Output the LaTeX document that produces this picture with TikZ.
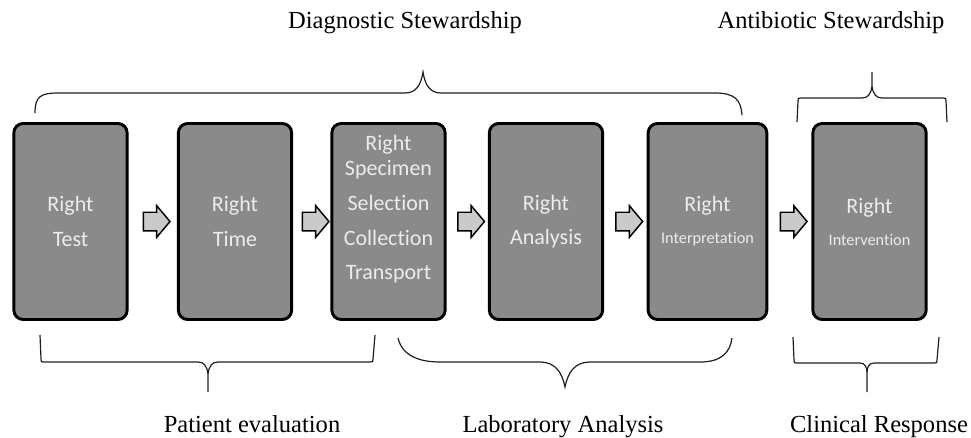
\documentclass[tikz,border=0pt]{standalone}
\usepackage{fontspec}
\setmainfont{Liberation Serif}
\newfontfamily\boxfont{Carlito}[Ligatures=NoCommon]
\usetikzlibrary{shapes.arrows,calc}
\definecolor{stagefill}{RGB}{138,138,138}
\definecolor{stagetext}{RGB}{236,236,236}
\definecolor{flowfill}{RGB}{202,202,202}
\definecolor{bracecol}{RGB}{30,30,30}

\begin{document}
\begin{tikzpicture}[x=0.75pt,y=-0.75pt]
% ----- columns (x) & row (y), in px of the sketch -----
\def\xTest{70.5}
\def\xTime{235}
\def\xSpec{388.5}
\def\xAnal{546}
\def\xInterp{707.5}
\def\xInterv{869.5}

\def\yBox{221.5}

% box size
\def\wBox{85pt}
\def\hBox{147pt}

% styles
\tikzset{stage/.style={draw=black,line width=2.2pt,fill=stagefill,rounded corners=7pt,
    minimum width=\wBox,minimum height=\hBox,inner sep=0pt,align=center,
    text=stagetext,font=\boxfont\fontsize{16.5}{26}\selectfont},
  flow/.style={single arrow,draw=black,line width=1.1pt,fill=flowfill,inner xsep=0pt,
    inner ysep=6.4pt,minimum height=20pt,single arrow head extend=4.9pt,
    single arrow tip angle=100},
  brace/.style={draw=bracecol,line width=0.9pt},
  grp/.style={anchor=base,font=\fontsize{18.4}{22}\selectfont}}

\useasboundingbox (0,0) rectangle (971,437);

% ----- stages -----
\node[stage] (test) at (\xTest,\yBox) {Right\\Test};
\node[stage] (time) at (\xTime,\yBox) {Right\\Time};
\node[stage,label={[stagetext,align=center,font=\boxfont\fontsize{16.5}{26}\selectfont,yshift=9pt]center:{Right\\[-7.25pt]Specimen\\Selection\\Collection\\Transport}}] (spec) at (\xSpec,\yBox) {};
\node[stage] (anal) at (\xAnal,\yBox) {Right\\Analysis};
\node[stage,minimum width=89pt] (interp) at (\xInterp,\yBox) {Right\\[-2pt]{\fontsize{12.2}{15}\selectfont Interpretation}};
\node[stage] (interv) at (\xInterv,\yBox) {Right\\[-2pt]{\fontsize{12.2}{15}\selectfont Intervention}};

% ----- block arrows between stages -----
\node[flow] (f1) at ($(test.east)!0.5!(time.west)$) {};
\node[flow] (f2) at ($(time.east)!0.5!(spec.west)$) {};
\node[flow] (f3) at ($(spec.east)!0.5!(anal.west)$) {};
\node[flow] (f4) at ($(anal.east)!0.5!(interp.west)$) {};
\node[flow] (f5) at ($(interp.east)!0.5!(interv.west)$) {};

% ----- top braces -----
\draw[brace] (35,113) .. controls (35,97) and (40,93) .. (58,93) -- (405,93)
  .. controls (416,93) and (421,85) .. (423,72)
  .. controls (425,85) and (430,93) .. (441,93) -- (715,93)
  .. controls (735,93) and (741,100) .. (742,115);
\draw[brace] (797,122) -- (798,101) .. controls (798,98) .. (801,98) -- (862,98)
  .. controls (868,98) and (871,94) .. (872,86) -- (872,72) -- (872,86)
  .. controls (873,94) and (876,98) .. (882,98) -- (943,98)
  .. controls (946,98) .. (946,101) -- (947,122);

% ----- bottom braces -----
\draw[brace] (40,335) -- (41,359) .. controls (41,362) .. (44,362) -- (198,362)
  .. controls (204,362) and (207,366) .. (208,374) -- (208,392) -- (208,374)
  .. controls (209,366) and (212,362) .. (218,362) -- (370,362)
  .. controls (373,362) .. (373,359) -- (375,335);
\draw[brace] (398,338) .. controls (402,355) and (418,362) .. (440,362) -- (540,362)
  .. controls (555,362) and (562,372) .. (565,387)
  .. controls (568,372) and (575,362) .. (590,362) -- (700,362)
  .. controls (722,362) and (730,352) .. (732,338);
\draw[brace] (793,337) -- (794,360) .. controls (794,363) .. (797,363) -- (860,363)
  .. controls (865,363) and (867,367) .. (867,373) -- (867,392) -- (867,373)
  .. controls (867,367) and (869,363) .. (874,363) -- (934,363)
  .. controls (937,363) .. (937,360) -- (939,337);

% ----- group labels -----
\node[grp] (diag) at (405,28) {Diagnostic Stewardship};
\node[grp] (abx) at (831,28) {Antibiotic Stewardship};
\node[grp] (patient) at (252,432) {Patient evaluation};
\node[grp] (lab) at (563,432) {Laboratory Analysis};
\node[grp] (clin) at (879,432) {Clinical Response};
\end{tikzpicture}
\end{document}
